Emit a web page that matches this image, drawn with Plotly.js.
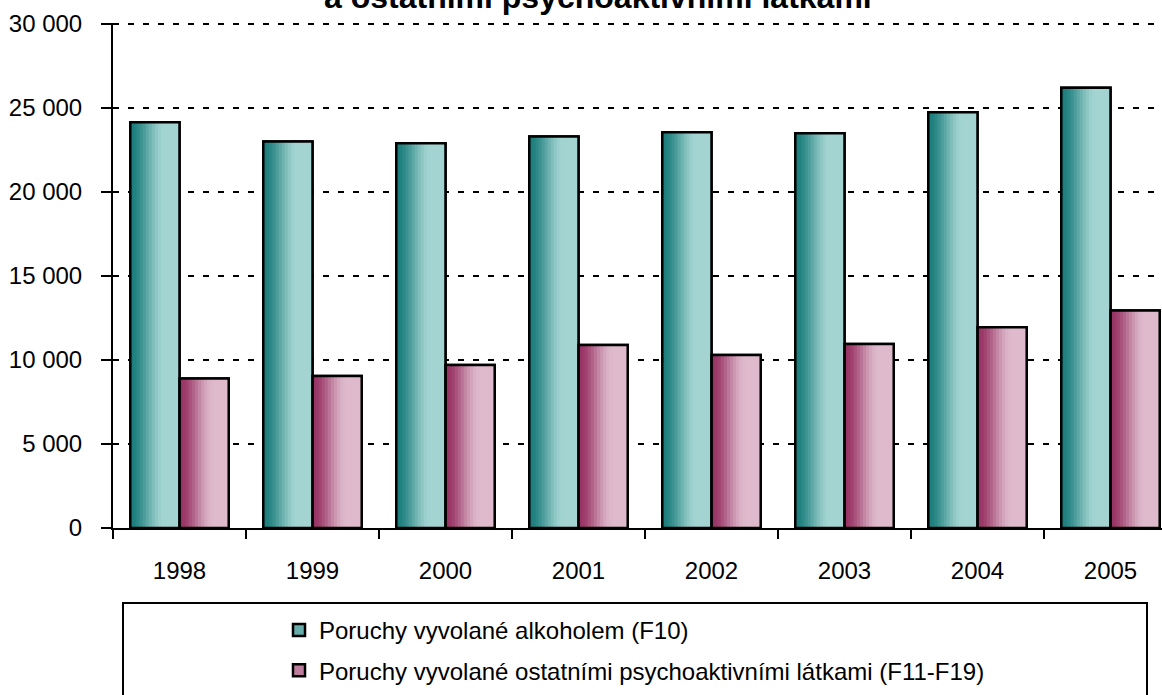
<!DOCTYPE html>
<html>
<head>
<meta charset="utf-8">
<script src="https://cdn.plot.ly/plotly-3.0.1.min.js"></script>
<style>
  html, body { margin: 0; padding: 0; background: #ffffff; }
  #chart { width: 1162px; height: 695px; }
</style>
</head>
<body>
<div id="chart"></div>
<script>
// ---- data ----
const years = ['1998', '1999', '2000', '2001', '2002', '2003', '2004', '2005'];
const alcoholDisorders = [24150, 23000, 22900, 23300, 23550, 23500, 24750, 26200];
const otherSubstanceDisorders = [8900, 9050, 9700, 10900, 10300, 10950, 11950, 12950];
const seriesNames = [
  'Poruchy vyvolané alkoholem (F10)',
  'Poruchy vyvolané ostatními psychoaktivními látkami (F11-F19)'
];
const titleText = 'a ostatními psychoaktivními látkami';

// ---- styles ----
const textFont = '"Liberation Sans", Arial, sans-serif';
const series = [
  { y: alcoholDisorders, name: seriesNames[0], offset: -0.37, dark: [27, 126, 124], light: [163, 212, 210] },
  { y: otherSubstanceDisorders, name: seriesNames[1], offset: 0.0, dark: [152, 50, 100], light: [222, 186, 204] }
];
const barWidth = 0.37;
const strips = 16;

function mix(a, b, t) {
  return 'rgb(' + a.map((v, i) => Math.round(v + (b[i] - v) * t)).join(',') + ')';
}
function ramp(t) {
  const u = Math.min(1, t / 0.7);
  return u * u * (3 - 2 * u);
}

const baseTraces = [], stripTraces = [], outlineTraces = [];
series.forEach((s, si) => {
  baseTraces.push({
    type: 'bar', x: years, y: s.y, name: s.name, legendgroup: 'g' + si,
    offset: s.offset, width: barWidth,
    marker: { color: mix(s.dark, s.light, 0.55), line: { color: '#000', width: 2.5 } },
    hoverinfo: 'x+y'
  });
  const w = barWidth / strips;
  for (let k = 0; k < strips; k++) {
    const t = (k + 0.5) / strips;
    stripTraces.push({
      type: 'bar', x: years, y: s.y, showlegend: false, hoverinfo: 'skip',
      offset: s.offset + k * w, width: k === strips - 1 ? w : w * 1.3,
      marker: { color: mix(s.dark, s.light, ramp(t)), line: { width: 0 } }
    });
  }
  outlineTraces.push({
    type: 'bar', x: years, y: s.y, showlegend: false, hoverinfo: 'skip',
    offset: s.offset, width: barWidth,
    marker: { color: 'rgba(0,0,0,0)', line: { color: '#000', width: 2.5 } }
  });
});

const L = 113, R = 0, T = 23, B = 167, W = 1162, H = 695;
const plotW = W - L - R, plotH = H - T - B;
const px2x = X => (X - L) / plotW;
const px2y = Y => (H - B - Y) / plotH;

const layout = {
  width: W, height: H,
  margin: { l: L, r: R, t: T, b: B, pad: 0 },
  paper_bgcolor: '#ffffff', plot_bgcolor: '#ffffff',
  barmode: 'overlay',
  separators: ', ',
  showlegend: true,
  font: { family: textFont, size: 24, color: '#000' },
  xaxis: {
    type: 'category', categoryarray: years,
    range: [-0.5, -0.5 + plotW / 133],
    showline: true, linecolor: '#000', linewidth: 2,
    ticks: 'outside', tickson: 'boundaries', ticklen: 9, tickwidth: 2, tickcolor: '#000',
    showgrid: false, zeroline: false,
    tickfont: { family: textFont, size: 24, color: '#000' },
    ticklabelstandoff: 20
  },
  yaxis: {
    range: [0, 30060], dtick: 5000, tick0: 0,
    separatethousands: true, exponentformat: 'none',
    showline: true, linecolor: '#000', linewidth: 2,
    ticks: 'outside', ticklen: 10, tickwidth: 2, tickcolor: '#000',
    showgrid: true, gridcolor: '#000', gridwidth: 2.5, griddash: '6px,9px',
    zeroline: false,
    tickfont: { family: textFont, size: 24, color: '#000' },
    ticklabelstandoff: 14
  },
  legend: {
    x: px2x(279), y: px2y(608), xanchor: 'left', yanchor: 'top',
    bgcolor: 'rgba(0,0,0,0)', borderwidth: 0,
    font: { family: textFont, size: 24, color: '#000' },
    traceorder: 'grouped', tracegroupgap: 6
  },
  shapes: [{
    type: 'rect', xref: 'paper', yref: 'paper',
    x0: px2x(123), x1: px2x(1147), y0: px2y(603), y1: px2y(720),
    line: { color: '#000', width: 2 }, fillcolor: 'rgba(0,0,0,0)', layer: 'above'
  }],
  annotations: [{
    text: titleText, xref: 'paper', yref: 'paper',
    x: px2x(598), y: px2y(-3), xanchor: 'center', yanchor: 'middle',
    showarrow: false,
    font: { family: textFont, size: 32, color: '#000', weight: 'bold' }
  }]
};

Plotly.newPlot('chart', baseTraces.concat(stripTraces, outlineTraces), layout, { displayModeBar: false, staticPlot: true });
</script>
</body>
</html>
